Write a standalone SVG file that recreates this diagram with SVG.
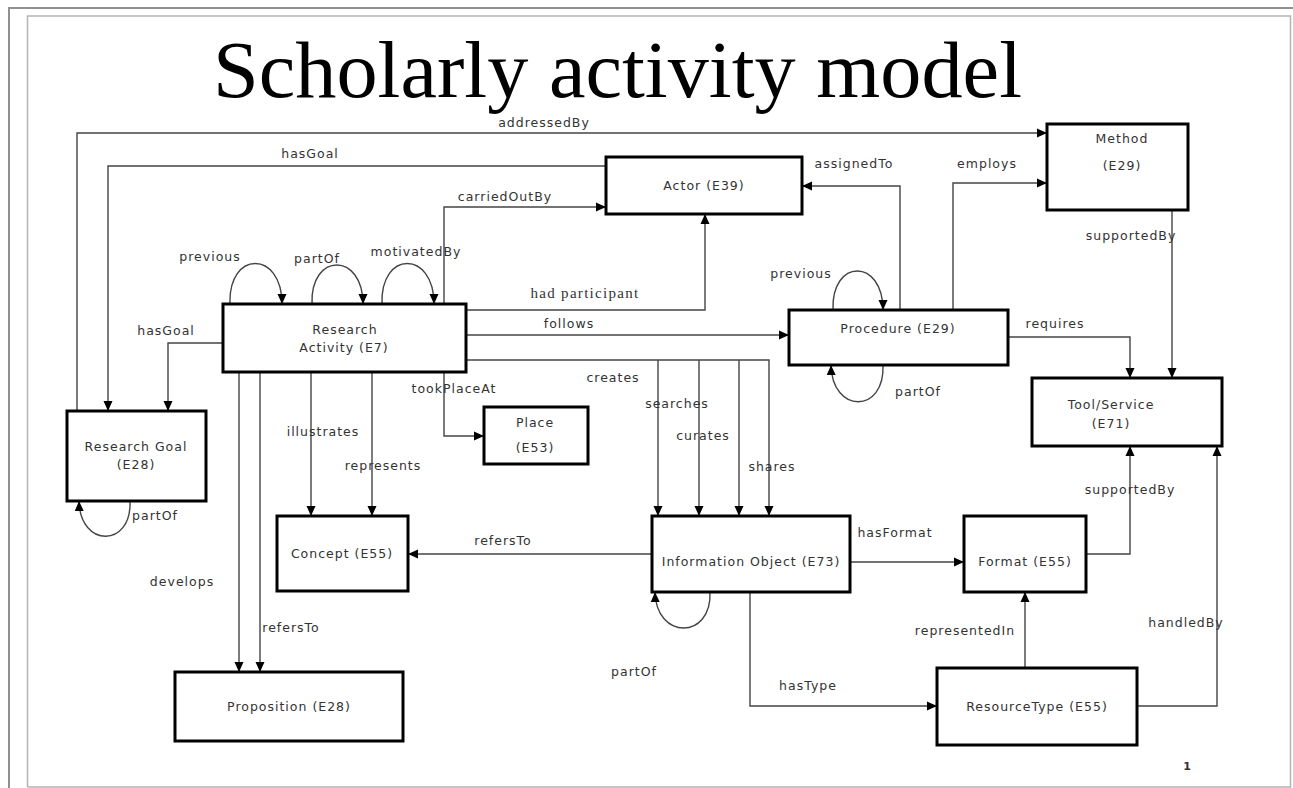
<svg xmlns="http://www.w3.org/2000/svg" width="1293" height="788" viewBox="0 0 1293 788">
<style>
.box{fill:#fff;stroke:#000;stroke-width:3}
.nt{font-family:"DejaVu Sans",sans-serif;font-size:12.5px;letter-spacing:1px;fill:#333;text-anchor:middle}
.lb{font-family:"DejaVu Sans",sans-serif;font-size:12.5px;letter-spacing:1px;fill:#333;text-anchor:middle}
.c{fill:none;stroke:#444;stroke-width:1.4}
</style>
<defs>
<marker id="a" markerUnits="userSpaceOnUse" markerWidth="10" markerHeight="10" refX="10" refY="5" orient="auto">
<path d="M0,0.5 L10,5 L0,9.5 z" fill="#000"/>
</marker>
</defs>
<rect x="0" y="0" width="1293" height="788" fill="#fff"/>
<g id="frame">
<path d="M9,788 V8 H1293" fill="none" stroke="#909090" stroke-width="2"/>
<path d="M27.5,787 V16 H1290.5 V787 H27.5" fill="none" stroke="#b4b4b4" stroke-width="1.5"/>
</g>
<text x="213" y="97" font-family="Liberation Serif,serif" font-size="80" fill="#000" textLength="809" lengthAdjust="spacingAndGlyphs">Scholarly activity model</text>

<g id="connectors">
<path class="c" d="M77,411 V133 H1047" marker-end="url(#a)"/>
<text class="lb" x="544" y="127">addressedBy</text>
<path class="c" d="M606,166 H108 V411" marker-end="url(#a)"/>
<text class="lb" x="310" y="158">hasGoal</text>
<path class="c" d="M444,304 V207 H606" marker-end="url(#a)"/>
<text class="lb" x="505" y="201">carriedOutBy</text>
<path class="c" d="M230,304 C228,250 282,250 282,304" marker-end="url(#a)"/>
<text class="lb" x="210" y="261">previous</text>
<path class="c" d="M312,304 C310,252 363,252 363,304" marker-end="url(#a)"/>
<text class="lb" x="317" y="263">partOf</text>
<path class="c" d="M382,304 C380,250 434,250 434,304" marker-end="url(#a)"/>
<text class="lb" x="416" y="256">motivatedBy</text>
<path class="c" d="M466,310 H705 V214" marker-end="url(#a)"/>
<text x="585" y="298" font-family="Liberation Serif,serif" font-size="15" letter-spacing="1.3" fill="#333" text-anchor="middle">had participant</text>
<path class="c" d="M466,335 H789" marker-end="url(#a)"/>
<text class="lb" x="569" y="328">follows</text>
<path class="c" d="M466,360 H769 V516" marker-end="url(#a)"/>
<path class="c" d="M658,360 V516" marker-end="url(#a)"/>
<path class="c" d="M699,360 V516" marker-end="url(#a)"/>
<path class="c" d="M739,360 V516" marker-end="url(#a)"/>
<text class="lb" x="613" y="382">creates</text>
<text class="lb" x="677" y="408">searches</text>
<text class="lb" x="703" y="440">curates</text>
<text class="lb" x="772" y="471">shares</text>
<path class="c" d="M444,368 V436 H484" marker-end="url(#a)"/>
<text class="lb" x="454" y="393">tookPlaceAt</text>
<path class="c" d="M223,343 H168 V411" marker-end="url(#a)"/>
<text class="lb" x="166" y="335">hasGoal</text>
<path class="c" d="M130,501 C132,548 80,548 79,501" marker-end="url(#a)"/>
<text class="lb" x="155" y="520">partOf</text>
<path class="c" d="M311,372 V516" marker-end="url(#a)"/>
<text class="lb" x="323" y="436">illustrates</text>
<path class="c" d="M372,372 V516" marker-end="url(#a)"/>
<text class="lb" x="383" y="470">represents</text>
<path class="c" d="M239,372 V672" marker-end="url(#a)"/>
<text class="lb" x="182" y="586">develops</text>
<path class="c" d="M260,372 V672" marker-end="url(#a)"/>
<text class="lb" x="291" y="632">refersTo</text>
<path class="c" d="M652,554 H408" marker-end="url(#a)"/>
<text class="lb" x="503" y="545">refersTo</text>
<path class="c" d="M710,592 C712,640 656,640 655,592" marker-end="url(#a)"/>
<text class="lb" x="634" y="676">partOf</text>
<path class="c" d="M850,562 H964" marker-end="url(#a)"/>
<text class="lb" x="895" y="537">hasFormat</text>
<path class="c" d="M750,592 V706 H937" marker-end="url(#a)"/>
<text class="lb" x="808" y="690">hasType</text>
<path class="c" d="M1025,668 V592" marker-end="url(#a)"/>
<text class="lb" x="965" y="635">representedIn</text>
<path class="c" d="M1137,706 H1217 V446" marker-end="url(#a)"/>
<text class="lb" x="1186" y="627">handledBy</text>
<path class="c" d="M1086,554 H1130 V446" marker-end="url(#a)"/>
<text class="lb" x="1130" y="494">supportedBy</text>
<path class="c" d="M1172,210 V378" marker-end="url(#a)"/>
<text class="lb" x="1131" y="240">supportedBy</text>
<path class="c" d="M1008,337 H1130 V378" marker-end="url(#a)"/>
<text class="lb" x="1055" y="328">requires</text>
<path class="c" d="M953,310 V183 H1047" marker-end="url(#a)"/>
<text class="lb" x="987" y="168">employs</text>
<path class="c" d="M900,310 V186 H802" marker-end="url(#a)"/>
<text class="lb" x="854" y="168">assignedTo</text>
<path class="c" d="M833,310 C831,258 883,258 883,310" marker-end="url(#a)"/>
<text class="lb" x="801" y="278">previous</text>
<path class="c" d="M883,365 C885,414 832,414 831,365" marker-end="url(#a)"/>
<text class="lb" x="918" y="396">partOf</text>
</g>

<g id="method"><rect class="box" x="1047" y="124" width="141" height="86"/><text class="nt" x="1122" y="143">Method</text><text class="nt" x="1122" y="170">(E29)</text></g>
<g id="actor"><rect class="box" x="606" y="157" width="196" height="57"/><text class="nt" x="704" y="190">Actor (E39)</text></g>
<g id="research-activity"><rect class="box" x="223" y="304" width="243" height="68"/><text class="nt" x="345" y="334">Research</text><text class="nt" x="344" y="352">Activity (E7)</text></g>
<g id="research-goal"><rect class="box" x="67" y="411" width="139" height="90"/><text class="nt" x="136" y="451">Research Goal</text><text class="nt" x="136" y="469">(E28)</text></g>
<g id="procedure"><rect class="box" x="789" y="310" width="219" height="55"/><text class="nt" x="898" y="333">Procedure (E29)</text></g>
<g id="tool-service"><rect class="box" x="1032" y="378" width="190" height="68"/><text class="nt" x="1111" y="409">Tool/Service</text><text class="nt" x="1111" y="428">(E71)</text></g>
<g id="place"><rect class="box" x="484" y="407" width="104" height="57"/><text class="nt" x="535" y="427">Place</text><text class="nt" x="535" y="452">(E53)</text></g>
<g id="concept"><rect class="box" x="277" y="516" width="131" height="75"/><text class="nt" x="342" y="558">Concept (E55)</text></g>
<g id="information-object"><rect class="box" x="652" y="516" width="198" height="76"/><text class="nt" x="751" y="566">Information Object (E73)</text></g>
<g id="format"><rect class="box" x="964" y="516" width="122" height="76"/><text class="nt" x="1025" y="566">Format (E55)</text></g>
<g id="resource-type"><rect class="box" x="937" y="668" width="200" height="77"/><text class="nt" x="1037" y="711">ResourceType (E55)</text></g>
<g id="proposition"><rect class="box" x="175" y="672" width="228" height="69"/><text class="nt" x="289" y="711">Proposition (E28)</text></g>
<text x="1187" y="770" font-family="DejaVu Sans,sans-serif" font-size="11" font-weight="bold" fill="#333" text-anchor="middle">1</text>
</svg>
